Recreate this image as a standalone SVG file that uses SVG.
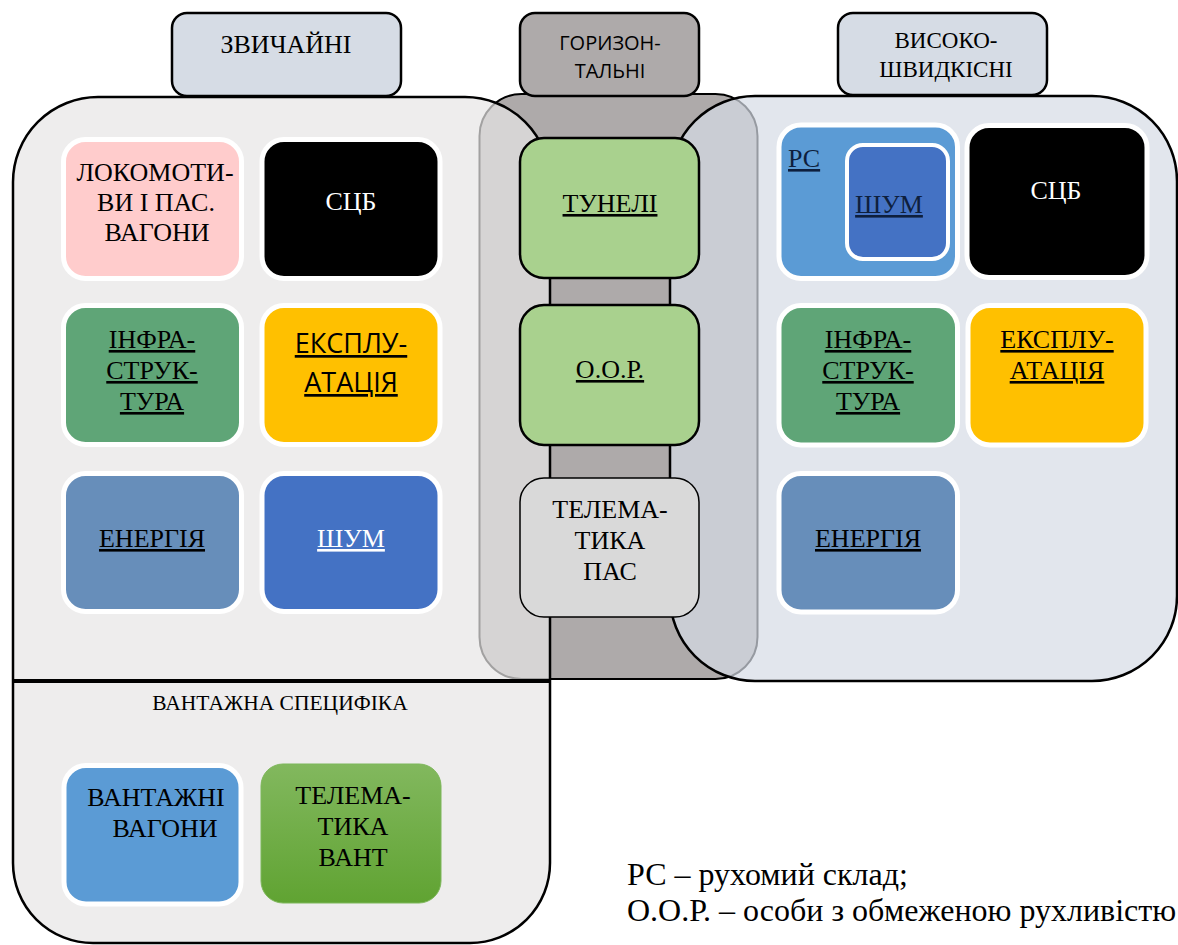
<svg xmlns="http://www.w3.org/2000/svg" width="1178" height="945" viewBox="0 0 1178 945" font-family="'Liberation Serif','Times New Roman',serif">
<style>
.serif{font-family:"Liberation Serif","Times New Roman",serif;}
.sans{font-family:"Open Sans","Liberation Sans",sans-serif;}
.t{font-size:26px;text-anchor:middle;fill:#000;}
.w{fill:#fff;}
.u{text-decoration:underline;}
.tile{stroke:#fff;stroke-width:5;}
.lbl{stroke:#000;stroke-width:2.5;}
.mid{stroke:#000;stroke-width:2.5;}
</style>
<defs>
<linearGradient id="gGreen" x1="0" y1="0" x2="0" y2="1">
<stop offset="0" stop-color="#82b85e"/>
<stop offset="1" stop-color="#60a332"/>
</linearGradient>
</defs>
<rect width="1178" height="945" fill="#fff"/>

<g id="container-horizontal">
<rect x="479.5" y="94" width="278" height="585" rx="42" fill="#aeaaaa" stroke="#000" stroke-width="2"/>
</g>
<g id="container-ordinary">
<path d="M98 97 H465 A85 85 0 0 1 550 182 V863 A80 80 0 0 1 470 943 H93 A80 80 0 0 1 13 863 V182 A85 85 0 0 1 98 97 Z" fill="#e7e6e6" fill-opacity="0.7" stroke="#000" stroke-width="2.5"/>
<line x1="13" y1="681" x2="550" y2="681" stroke="#000" stroke-width="4"/>
</g>
<g id="container-highspeed">
<rect x="670" y="96" width="507" height="585" rx="85" fill="#d6dce5" fill-opacity="0.7" stroke="#000" stroke-width="2.5"/>
</g>

<g id="label-ordinary">
<rect x="172" y="13" width="229" height="83" rx="15" fill="#d6dce5" class="lbl"/>
<text x="286" y="53" class="serif t">ЗВИЧАЙНІ</text>
</g>
<g id="label-horizontal">
<rect x="520" y="13" width="179" height="83" rx="15" fill="#aeaaaa" class="lbl"/>
<text x="610" y="50" class="sans t" style="font-size:20px">ГОРИЗОН-</text>
<text x="610" y="78" class="sans t" style="font-size:20px">ТАЛЬНІ</text>
</g>
<g id="label-highspeed">
<rect x="838" y="13" width="209" height="82" rx="15" fill="#d6dce5" class="lbl"/>
<text x="946" y="48" class="serif t" style="font-size:23px">ВИСОКО-</text>
<text x="946" y="77" class="serif t" style="font-size:23px">ШВИДКІСНІ</text>
</g>

<g id="node-locomotives">
<rect x="63.5" y="139.5" width="178" height="139" rx="22" fill="#ffcccc" class="tile"/>
<text class="serif t"><tspan x="155" y="181">ЛОКОМОТИ-</tspan><tspan x="156" y="211">ВИ І ПАС.</tspan><tspan x="157" y="241">ВАГОНИ</tspan></text>
</g>
<g id="node-scb">
<rect x="262" y="139.5" width="178" height="139" rx="22" fill="#000" class="tile"/>
<text x="351" y="210" class="serif t w">СЦБ</text>
</g>
<g id="node-infra">
<rect x="63.5" y="305.5" width="178" height="139" rx="22" fill="#5fa577" class="tile"/>
<text class="serif t u"><tspan x="152" y="348">ІНФРА-</tspan><tspan x="152" y="379">СТРУК-</tspan><tspan x="152" y="410">ТУРА</tspan></text>
</g>
<g id="node-exploitation">
<rect x="262" y="305.5" width="178" height="139" rx="22" fill="#ffc000" class="tile"/>
<text class="sans t u" style="font-size:27px"><tspan x="351" y="353">ЕКСПЛУ-</tspan><tspan x="351" y="392">АТАЦІЯ</tspan></text>
</g>
<g id="node-energy">
<rect x="63.5" y="473.5" width="178" height="138" rx="22" fill="#678eba" class="tile"/>
<text x="152" y="547" class="serif t u">ЕНЕРГІЯ</text>
</g>
<g id="node-noise">
<rect x="262" y="473.5" width="178" height="138" rx="22" fill="#4472c4" class="tile"/>
<text x="351" y="547" class="serif t u w">ШУМ</text>
</g>

<g id="label-freight">
<text x="280" y="710" class="serif t" style="font-size:21.5px">ВАНТАЖНА СПЕЦИФІКА</text>
</g>
<g id="node-freight-wagons">
<rect x="64" y="765.5" width="177" height="138.5" rx="22" fill="#5b9bd5" class="tile"/>
<text class="serif t"><tspan x="156" y="806">ВАНТАЖНІ</tspan><tspan x="165" y="837">ВАГОНИ</tspan></text>
</g>
<g id="node-telematics-freight">
<rect x="261" y="764" width="180" height="139" rx="22" fill="url(#gGreen)" stroke="#7db75a" stroke-width="1"/>
<text class="serif t"><tspan x="353" y="804">ТЕЛЕМА-</tspan><tspan x="353" y="835">ТИКА</tspan><tspan x="353" y="866">ВАНТ</tspan></text>
</g>

<g id="node-rs">
<rect x="779" y="125" width="178.5" height="153.5" rx="22" fill="#5b9bd5" class="tile"/>
<text x="788" y="167" class="serif u" style="font-size:26px;fill:#0e1f3d">РС</text>
</g>
<g id="node-rs-noise">
<rect x="847" y="145" width="101" height="114" rx="16" fill="#4472c4" class="tile" style="stroke-width:4"/>
<text x="889" y="213" class="serif t u" style="fill:#0e1f3d">ШУМ</text>
</g>
<g id="node-hs-scb">
<rect x="967" y="125.5" width="180" height="152" rx="22" fill="#000" class="tile"/>
<text x="1056" y="199" class="serif t w">СЦБ</text>
</g>
<g id="node-hs-infra">
<rect x="779" y="305.5" width="178.5" height="139.5" rx="22" fill="#5fa577" class="tile"/>
<text class="serif t u"><tspan x="868" y="348">ІНФРА-</tspan><tspan x="868" y="379">СТРУК-</tspan><tspan x="868" y="410">ТУРА</tspan></text>
</g>
<g id="node-hs-exploitation">
<rect x="968" y="305.5" width="178" height="139.5" rx="22" fill="#ffc000" class="tile"/>
<text class="serif t u"><tspan x="1057" y="348">ЕКСПЛУ-</tspan><tspan x="1057" y="379">АТАЦІЯ</tspan></text>
</g>
<g id="node-hs-energy">
<rect x="779" y="473.5" width="178.5" height="138.5" rx="22" fill="#678eba" class="tile"/>
<text x="868" y="547" class="serif t u">ЕНЕРГІЯ</text>
</g>

<g id="node-tunnels">
<rect x="520" y="138" width="179" height="140" rx="24" fill="#a9d18e" class="mid"/>
<text x="610" y="212" class="serif t u">ТУНЕЛІ</text>
</g>
<g id="node-prm">
<rect x="520" y="305" width="179" height="140" rx="24" fill="#a9d18e" class="mid"/>
<text x="610" y="378" class="serif t u">О.О.Р.</text>
</g>
<g id="node-telematics-pass">
<rect x="520" y="478" width="179" height="139" rx="24" fill="#d9d9d9" stroke="#000" stroke-width="1.5"/>
<text class="serif t"><tspan x="610" y="518">ТЕЛЕМА-</tspan><tspan x="610" y="549">ТИКА</tspan><tspan x="610" y="580">ПАС</tspan></text>
</g>

<g id="connectors"></g>

<g id="legend">
<text x="627" y="885" class="serif" style="font-size:32px">РС – рухомий склад;</text>
<text x="627" y="921" class="serif" style="font-size:32px">О.О.Р. – особи з обмеженою рухливістю</text>
</g>
</svg>
